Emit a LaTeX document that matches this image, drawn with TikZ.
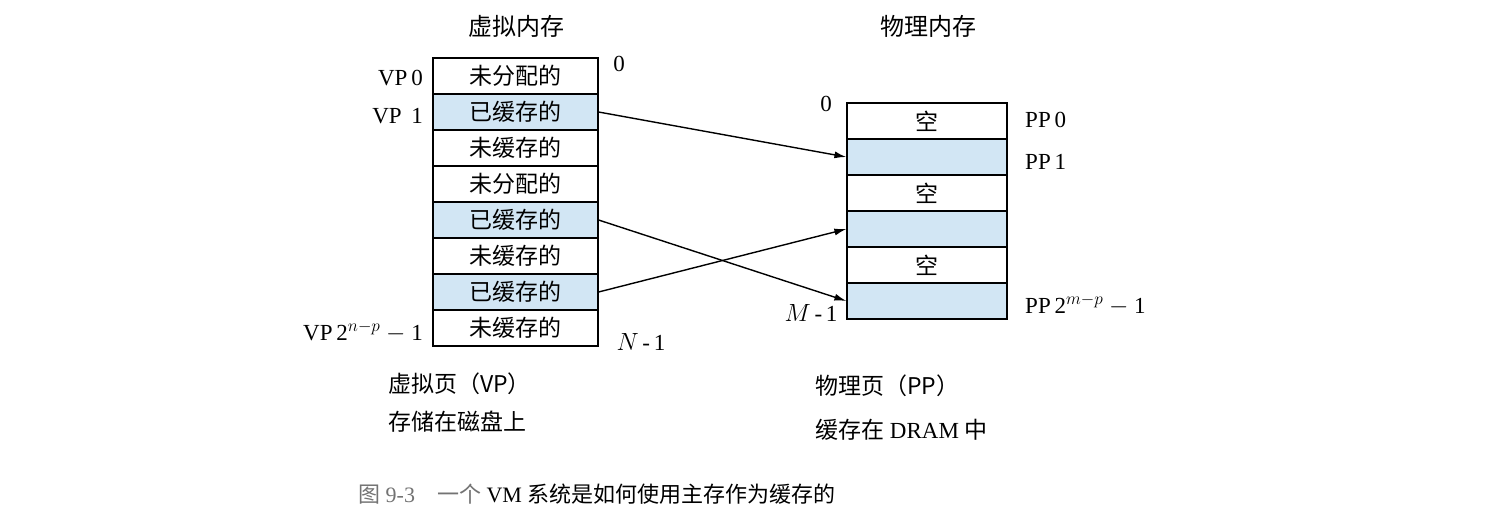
\documentclass[tikz,border=0pt]{standalone}
\usepackage{fontspec}
\usetikzlibrary{arrows.meta}
\setmainfont{Liberation Serif}
\newfontfamily\cjk{Noto Sans CJK SC}
\definecolor{cachedblue}{HTML}{D2E6F4}
\begin{document}
\begin{tikzpicture}[x=1pt,y=-1pt,
  cell/.style={draw=black,line width=1.2pt,minimum height=36pt,inner sep=0pt,font=\cjk\fontsize{23}{23}\selectfont},
  vc/.style={cell,minimum width=165pt},
  pc/.style={cell,minimum width=160pt},
  cached/.style={fill=cachedblue},
  plain/.style={fill=none},
  lab/.style={font=\fontsize{23}{23}\selectfont,inner sep=0pt},
  cl/.style={font=\cjk\fontsize{24}{24}\selectfont,inner sep=0pt},
  arr/.style={-{Latex[length=12pt,width=7pt]},line width=1.4pt}]
\useasboundingbox (0,0) rectangle (1512,531);
\node[cl] (vt) at (516,26) {虚拟内存};
\node[cl] (pt) at (928,26) {物理内存};
\foreach \i/\t/\c in {0/未分配的/plain,1/已缓存的/cached,2/未缓存的/plain,3/未分配的/plain,4/已缓存的/cached,5/未缓存的/plain,6/已缓存的/cached,7/未缓存的/plain}{
  \node[vc,\c] (v\i) at (515.5,{76+36*\i}) {\t};}
\foreach \i/\t/\c in {0/空/plain,1//cached,2/空/plain,3//cached,4/空/plain,5//cached}{
  \node[pc,\c] (p\i) at (927,{121+36*\i}) {\t};}
\node[lab,anchor=east] (vl0) at (423,78) {VP\,0};
\node[lab,anchor=east] (vl1) at (423,116) {VP\, 1};
\node[lab,anchor=east] (vln) at (423,332) {VP\,2$^{n-p}$ $-$ 1};
\node[lab] (z0) at (619,64) {0};
\node[lab] (nm) at (641,342) {$N$\,-\,1};
\node[lab] (z1) at (826,104) {0};
\node[lab] (mm) at (811,313) {$M$\,-\,1};
\node[lab,anchor=west] (pl0) at (1025,120) {PP\,0};
\node[lab,anchor=west] (pl1) at (1025,162) {PP\,1};
\node[lab,anchor=west] (pln) at (1025,305) {PP\,2$^{m-p}$ $-$ 1};
\node[cl,anchor=west,font=\cjk\fontsize{23}{23}\selectfont] (vd1) at (388,384) {虚拟页（VP）};
\node[cl,anchor=west,font=\cjk\fontsize{23}{23}\selectfont] (vd2) at (388,422) {存储在磁盘上};
\node[cl,anchor=west,font=\cjk\fontsize{23}{23}\selectfont] (pd1) at (815,386) {物理页（PP）};
\node[anchor=west,inner sep=0pt,font=\fontsize{23}{23}\selectfont] (pd2) at (815,430) {{\cjk 缓存在} DRAM {\cjk 中}};
\node[anchor=west,inner sep=0pt,text=black!55,font=\fontsize{22}{22}\selectfont] (cap) at (358,494) {{\cjk 图} 9-3\quad {\cjk 一个} \textcolor{black}{VM} \textcolor{black}{\cjk 系统是如何使用主存作为缓存的}};
\draw[arr] (v1.east) -- (p1.west);
\draw[arr] (v4.east) -- (p5.west);
\draw[arr] (v6.east) -- (p3.west);
\end{tikzpicture}
\end{document}
